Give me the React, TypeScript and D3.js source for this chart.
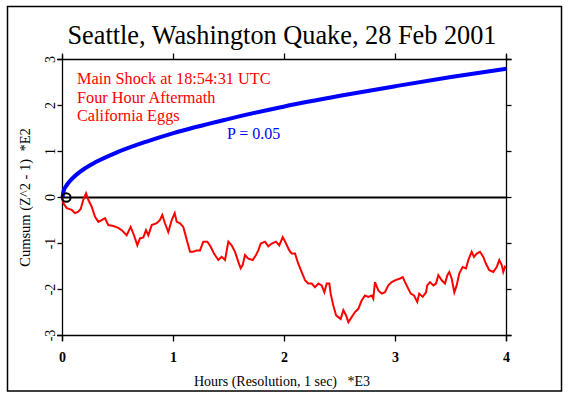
import React from "react";
import * as d3 from "d3";

const TITLE = "Seattle, Washington Quake, 28 Feb 2001";
const NOTES = ["Main Shock at 18:54:31 UTC", "Four Hour Aftermath", "California Eggs"];
const P_LABEL = "P = 0.05";
const X_TITLE = "Hours (Resolution, 1 sec)   *E3";
const Y_TITLE = "Cumsum (Z^2 - 1)  *E2";
const X_TICKS = [0, 1, 2, 3, 4];
const Y_TICKS = [-3, -2, -1, 0, 1, 2, 3];

// P = 0.05 envelope
const envX = [0, 0.01, 0.03, 0.05, 0.1, 0.2, 0.3, 0.5, 0.75, 1, 1.5, 2, 2.5, 3, 3.5, 4];
const envY = [0, 0.14, 0.24, 0.31, 0.44, 0.63, 0.77, 0.99, 1.21, 1.4, 1.71, 1.98, 2.21, 2.42, 2.62, 2.8];

// Cumulative deviation (red trace)
const devX = [0, 0.007, 0.038, 0.083, 0.113, 0.142, 0.164, 0.187, 0.212, 0.232, 0.263, 0.293, 0.323, 0.353, 0.383, 0.413, 0.458, 0.503, 0.533, 0.578, 0.614, 0.644, 0.674, 0.698, 0.728, 0.752, 0.773, 0.804, 0.849, 0.878, 0.899, 0.923, 0.953, 0.984, 1.011, 1.029, 1.059, 1.088, 1.104, 1.124, 1.149, 1.178, 1.209, 1.239, 1.268, 1.305, 1.335, 1.365, 1.404, 1.434, 1.464, 1.494, 1.524, 1.554, 1.584, 1.605, 1.623, 1.644, 1.674, 1.714, 1.743, 1.764, 1.786, 1.824, 1.854, 1.885, 1.923, 1.953, 1.984, 2.014, 2.043, 2.065, 2.095, 2.124, 2.155, 2.185, 2.214, 2.245, 2.275, 2.305, 2.335, 2.359, 2.38, 2.404, 2.416, 2.44, 2.464, 2.485, 2.506, 2.53, 2.554, 2.575, 2.605, 2.635, 2.665, 2.695, 2.725, 2.755, 2.786, 2.8, 2.815, 2.845, 2.876, 2.905, 2.935, 2.966, 2.995, 3.041, 3.065, 3.086, 3.115, 3.137, 3.167, 3.196, 3.214, 3.245, 3.275, 3.286, 3.311, 3.341, 3.365, 3.386, 3.416, 3.446, 3.467, 3.485, 3.506, 3.53, 3.551, 3.575, 3.605, 3.635, 3.656, 3.686, 3.707, 3.732, 3.761, 3.791, 3.815, 3.845, 3.881, 3.912, 3.935, 3.957, 3.971, 3.986, 3.995];
const devY = [0, -0.12, -0.23, -0.27, -0.34, -0.31, -0.25, -0.05, 0.09, -0.05, -0.2, -0.42, -0.53, -0.49, -0.45, -0.6, -0.62, -0.66, -0.71, -0.82, -0.64, -0.82, -1.04, -0.89, -0.87, -0.71, -0.82, -0.6, -0.56, -0.49, -0.38, -0.56, -0.75, -0.49, -0.34, -0.53, -0.56, -0.64, -0.78, -0.96, -1.18, -1.18, -1.15, -1.15, -0.96, -0.96, -1.07, -1.22, -1.36, -1.29, -1.36, -0.96, -1.04, -1.18, -1.4, -1.54, -1.47, -1.25, -1.33, -1.36, -1.25, -1.15, -1.0, -0.96, -1.06, -1.0, -0.96, -1.04, -0.86, -1.0, -1.15, -1.22, -1.22, -1.44, -1.62, -1.8, -1.87, -1.87, -1.95, -1.87, -1.91, -2.06, -1.87, -1.87, -2.09, -2.35, -2.56, -2.6, -2.64, -2.45, -2.56, -2.71, -2.6, -2.49, -2.42, -2.24, -2.13, -2.16, -2.13, -2.2, -1.84, -2.02, -2.09, -2.06, -1.91, -1.84, -1.8, -1.76, -1.73, -1.84, -1.98, -2.09, -2.13, -2.27, -2.09, -2.16, -2.06, -1.91, -1.84, -1.91, -1.87, -1.69, -1.8, -1.87, -1.69, -1.62, -1.76, -2.06, -1.91, -1.65, -1.51, -1.54, -1.36, -1.18, -1.29, -1.22, -1.18, -1.29, -1.44, -1.58, -1.62, -1.51, -1.36, -1.47, -1.62, -1.51, -1.54];

const FONT = "'Liberation Serif', 'Times New Roman', serif";

export default function App() {
  const W = 569, H = 397;
  const x = d3.scaleLinear().domain([0, 4]).range([62.5, 506.5]);
  const y = d3.scaleLinear().domain([-3, 3]).range([335.5, 59.5]);
  const env = d3.line<number>().x((_, i) => x(envX[i])).y((d) => y(d)).curve(d3.curveMonotoneX)(envY) || "";
  const dev = d3.line<number>().x((_, i) => x(devX[i])).y((d) => y(d))(devY) || "";
  const L = 62.5, R = 506.5, T = 59.5, B = 335.5;
  return (
    <svg width={W} height={H} style={{ position: "absolute", left: 0, top: 0 }}>
      <rect x={0} y={0} width={W} height={H} fill="white" />
      <rect x={7.5} y={6.5} width={554} height={384.5} fill="none" stroke="black" strokeWidth={1.5} />
      <text x={282} y={44} textAnchor="middle" fontFamily={FONT} fontSize={26.3}>{TITLE}</text>
      {/* axes frame */}
      <g stroke="black" strokeWidth={1.3}>
        <line x1={L} x2={L} y1={55} y2={341} />
        <line x1={R} x2={R} y1={55} y2={341} />
        <line x1={57} x2={511.5} y1={T} y2={T} />
        <line x1={57} x2={511.5} y1={B} y2={B} />
        {X_TICKS.map((t) => (
          <g key={"xt" + t}>
            <line x1={x(t)} x2={x(t)} y1={B} y2={B + 6} />
            <line x1={x(t)} x2={x(t)} y1={T} y2={T - 6} />
          </g>
        ))}
        {Y_TICKS.map((t) => (
          <g key={"yt" + t}>
            <line x1={L - 5} x2={L} y1={y(t)} y2={y(t)} />
            <line x1={R} x2={R + 5} y1={y(t)} y2={y(t)} />
          </g>
        ))}
      </g>
      {X_TICKS.map((t) => (
        <text key={"xl" + t} x={x(t)} y={362} textAnchor="middle" fontFamily={FONT} fontSize={14} fontWeight="bold">{t}</text>
      ))}
      {Y_TICKS.map((t) => (
        <text key={"yl" + t} transform={`translate(${54.5},${y(t)}) rotate(-90)`} textAnchor="middle" fontFamily={FONT} fontSize={14}>{t}</text>
      ))}
      <text x={282} y={386} textAnchor="middle" fontFamily={FONT} fontSize={14} style={{ whiteSpace: "pre" }}>{X_TITLE}</text>
      <text transform={`translate(29.5,${197.5}) rotate(-90)`} textAnchor="middle" fontFamily={FONT} fontSize={14.5} style={{ whiteSpace: "pre" }}>{Y_TITLE}</text>
      {/* zero line */}
      <line x1={L} x2={R} y1={y(0)} y2={y(0)} stroke="black" strokeWidth={2} />
      {/* curves */}
      <path d={dev} fill="none" stroke="#ff0000" strokeWidth={2} strokeLinejoin="miter" />
      <path d={env} fill="none" stroke="#0000ff" strokeWidth={4} />
      <circle cx={x(0) + 3.8} cy={y(0)} r={4.3} fill="none" stroke="black" strokeWidth={2} />
      {NOTES.map((n, i) => (
        <text key={n} x={77} y={84 + i * 18.5} fill="#ff0000" fontFamily={FONT} fontSize={16.3}>{n}</text>
      ))}
      <text x={227} y={139} fill="#0000ff" fontFamily={FONT} fontSize={16}>{P_LABEL}</text>
    </svg>
  );
}
